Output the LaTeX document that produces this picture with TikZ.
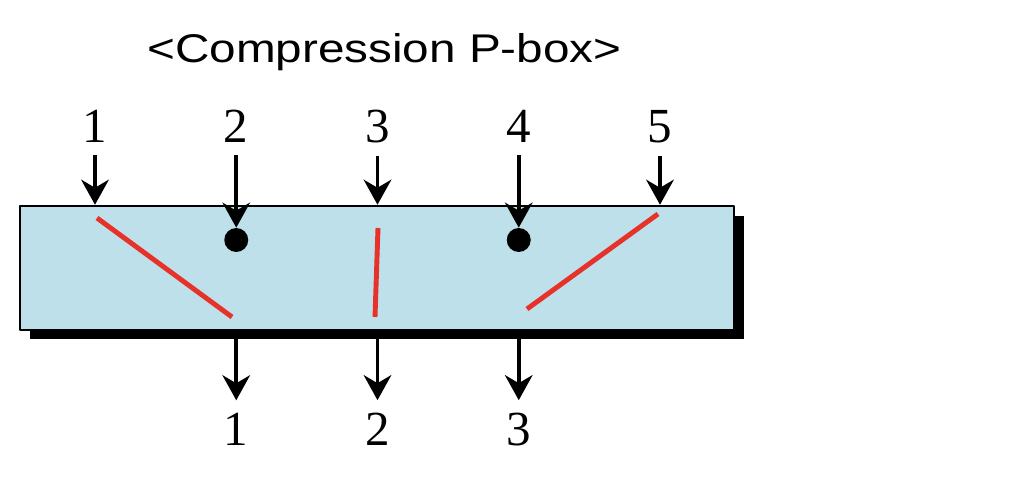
\documentclass[tikz,border=0pt]{standalone}
\usepackage{fontspec}
\setmainfont{Liberation Serif}
\newfontfamily\titlefont{Liberation Sans}
\usetikzlibrary{arrows.meta}
\definecolor{boxblue}{RGB}{189,224,235}
\definecolor{wirered}{RGB}{230,50,40}
\tikzset{
  arr/.style={line width=2.2pt, -{Stealth[length=0.5cm, width=0.55cm, inset=0.16cm]}},
  bitlabel/.style={inner sep=0pt, anchor=base, font=\fontsize{27.9}{30}\selectfont},
  dotnode/.style={circle, fill=black, inner sep=0pt, minimum size=0.48cm},
  wire/.style={line width=2.8pt, wirered, line cap=butt}
}
\begin{document}
\begin{tikzpicture}[line join=round]
	\useasboundingbox (0,0) rectangle (20.48,9.72);
	
	% ---------- title ----------
	\node[inner sep=0pt, anchor=base] (title) at (7.69,8.46)
	{\scalebox{1.19}[1]{\titlefont\fontsize{22.8}{26}\selectfont <Compression P-box>}};
	
	% ---------- box with its shadow ----------
	\fill[black] (0.60,2.94) rectangle (14.88,5.40);
	\node[draw=black, line width=1.4pt, fill=boxblue, inner sep=0pt,
	minimum width=14.28cm, minimum height=2.48cm] (pbox) at (7.54,4.36) {};
	
	% ---------- input labels ----------
	\node[bitlabel] (in1) at (1.90,6.86) {1};
	\node[bitlabel] (in2) at (4.725,6.86) {2};
	\node[bitlabel] (in3) at (7.55,6.86) {3};
	\node[bitlabel] (in4) at (10.375,6.86) {4};
	\node[bitlabel] (in5) at (13.20,6.86) {5};
	
	% blocked inputs end in a dot
	\node[dotnode] (dot2) at (4.725,4.92) {};
	\node[dotnode] (dot4) at (10.375,4.92) {};
	
	% input arrows
	\draw[arr] ([yshift=-0.24cm]in1.south) -- (in1 |- pbox.north);
	\draw[arr] ([yshift=-0.24cm]in2.south) -- (dot2.north);
	\draw[arr] ([yshift=-0.24cm]in3.south) -- (in3 |- pbox.north);
	\draw[arr] ([yshift=-0.24cm]in4.south) -- (dot4.north);
	\draw[arr] ([yshift=-0.24cm]in5.south) -- (in5 |- pbox.north);
	
	% ---------- red wires inside ----------
	\draw[wire] (1.94,5.36) -- (4.64,3.38);
	\draw[wire] (7.56,5.16) -- (7.50,3.38);
	\draw[wire] (13.16,5.44) -- (10.54,3.54);
	
	% ---------- output labels ----------
	\node[bitlabel] (out1) at (4.725,0.80) {1};
	\node[bitlabel] (out2) at (7.55,0.80) {2};
	\node[bitlabel] (out3) at (10.375,0.80) {3};
	
	% output arrows
	\draw[arr] (out1 |- pbox.south) -- ([yshift=0.26cm]out1.north);
	\draw[arr] (out2 |- pbox.south) -- ([yshift=0.26cm]out2.north);
	\draw[arr] (out3 |- pbox.south) -- ([yshift=0.26cm]out3.north);
	
\end{tikzpicture}
\end{document}
